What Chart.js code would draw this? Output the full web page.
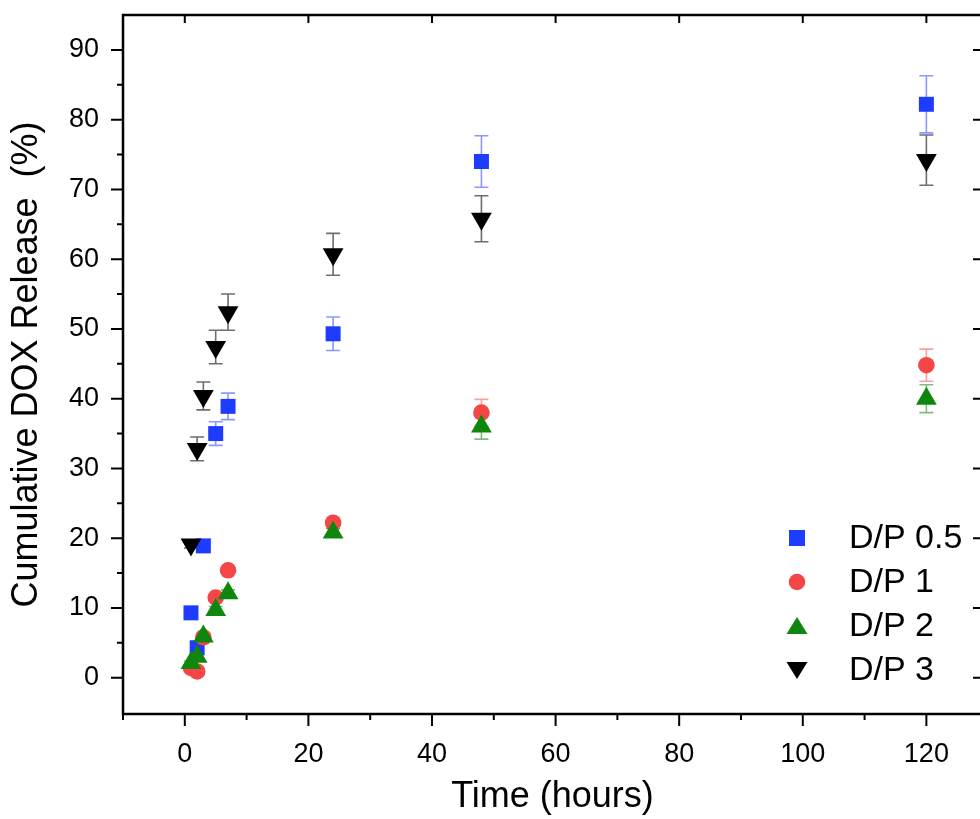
<!DOCTYPE html>
<html>
<head>
<meta charset="utf-8">
<title>Cumulative DOX Release</title>
<script src="https://cdn.jsdelivr.net/npm/chart.js@4.4.1/dist/chart.umd.min.js"></script>
<style>
  html, body { margin: 0; padding: 0; overflow: hidden; background: #fff; }
  #wrap { width: 990px; height: 819px; }
</style>
</head>
<body>
<div id="wrap"><canvas id="releaseChart" width="990" height="819"></canvas></div>
<script>
// sampling times (hours)
const hours = [1, 2, 3, 5, 7, 24, 48, 120];

// cumulative release (%) and error (+/-) per D/P ratio
const dp05 = [9.3, 4.3, 18.9, 35.0, 38.9, 49.3, 74.0, 82.2];
const dp05Err = [0.4, 0.5, 0.5, 1.7, 1.9, 2.4, 3.7, 4.1];
const dp1 = [1.4, 0.9, 5.8, 11.5, 15.4, 22.2, 38.0, 44.8];
const dp1Err = [0.3, 0.3, 0.5, 0.5, 0.5, 0.8, 1.9, 2.3];
const dp2 = [2.1, 3.0, 5.9, 9.7, 12.1, 20.8, 36.0, 40.0];
const dp2Err = [0.3, 0.3, 0.5, 0.5, 0.5, 0.6, 1.8, 2.0];
const dp3 = [19.1, 32.8, 40.4, 47.4, 52.4, 60.7, 65.8, 74.2];
const dp3Err = [0.5, 1.7, 2.0, 2.4, 2.6, 3.0, 3.3, 3.6];

const seriesNames = ['D/P 0.5', 'D/P 1', 'D/P 2', 'D/P 3'];

// tick labels
const xTickValues = [0, 20, 40, 60, 80, 100, 120];
const yTickValues = [0, 10, 20, 30, 40, 50, 60, 70, 80, 90];

const FONT = "'Liberation Sans', Arial, sans-serif";

function toPoints(values) {
    return hours.map((h, i) => ({ x: h, y: values[i] }));
}

// draws +/- error bars with caps under the markers
const errorBars = {
    id: 'errorBars',
    beforeDatasetsDraw(chart) {
        const { ctx, scales: { x, y } } = chart;
        chart.data.datasets.forEach((ds, i) => {
            ctx.save();
            ctx.strokeStyle = ds.errorColor;
            ctx.lineWidth = 1.6;
            ds.data.forEach((pt, j) => {
                const e = ds.errors[j];
                const px = x.getPixelForValue(pt.x);
                const top = y.getPixelForValue(pt.y + e);
                const bot = y.getPixelForValue(pt.y - e);
                ctx.beginPath();
                ctx.moveTo(px, top);
                ctx.lineTo(px, bot);
                ctx.moveTo(px - 7, top);
                ctx.lineTo(px + 7, top);
                ctx.moveTo(px - 7, bot);
                ctx.lineTo(px + 7, bot);
                ctx.stroke();
            });
            ctx.restore();
        });
    }
};

// box frame with outward ticks (left/bottom) and mirrored inward ticks
const axisFrame = {
    id: 'axisFrame',
    afterDraw(chart) {
        const { ctx, chartArea: a, scales: { x, y } } = chart;
        ctx.save();
        ctx.strokeStyle = '#000';
        ctx.lineWidth = 2.5;
        ctx.lineCap = 'square';
        ctx.strokeRect(a.left, a.top, a.right - a.left, a.bottom - a.top);
        ctx.lineCap = 'butt';
        ctx.lineWidth = 2;
        ctx.beginPath();
        for (let v = 0; v <= 90; v += 5) {
            const py = y.getPixelForValue(v);
            const major = v % 10 === 0;
            ctx.moveTo(a.left, py);
            ctx.lineTo(a.left - (major ? 12 : 6), py);
            if (major) {
                ctx.moveTo(a.right, py);
                ctx.lineTo(a.right - 9, py);
            }
        }
        for (let v = -10; v <= 120; v += 10) {
            const px = x.getPixelForValue(v);
            const major = v % 20 === 0;
            ctx.moveTo(px, a.bottom);
            ctx.lineTo(px, a.bottom + (major ? 12 : 6));
            if (major) {
                ctx.moveTo(px, a.top);
                ctx.lineTo(px, a.top + 8);
            }
        }
        ctx.stroke();
        ctx.restore();
    }
};

function drawMarker(ctx, kind, cx, cy, color) {
    ctx.fillStyle = color;
    ctx.beginPath();
    if (kind === 'rect') {
        ctx.rect(cx - 8, cy - 8, 16, 16);
    } else if (kind === 'circle') {
        ctx.arc(cx, cy, 8.3, 0, Math.PI * 2);
    } else if (kind === 'up') {
        ctx.moveTo(cx, cy - 9);
        ctx.lineTo(cx + 10.5, cy + 8);
        ctx.lineTo(cx - 10.5, cy + 8);
    } else {
        ctx.moveTo(cx, cy + 9);
        ctx.lineTo(cx + 10.5, cy - 8);
        ctx.lineTo(cx - 10.5, cy - 8);
    }
    ctx.closePath();
    ctx.fill();
}

// legend inside the plot, lower right
const insideLegend = {
    id: 'insideLegend',
    afterDraw(chart) {
        const { ctx } = chart;
        const kinds = ['rect', 'circle', 'up', 'down'];
        ctx.save();
        ctx.font = '34px ' + FONT;
        ctx.textBaseline = 'middle';
        ctx.textAlign = 'left';
        chart.data.datasets.forEach((ds, i) => {
            const rowY = 538 + i * 44;
            drawMarker(ctx, kinds[i], 797, rowY, ds.backgroundColor);
            ctx.fillStyle = '#000';
            ctx.fillText(seriesNames[i], 849, rowY + 1);
        });
        ctx.restore();
    }
};

const ctx = document.getElementById('releaseChart');

new Chart(ctx, {
    type: 'scatter',
    data: {
        datasets: [
            {
                label: seriesNames[0],
                data: toPoints(dp05),
                errors: dp05Err,
                errorColor: 'rgba(40, 70, 255, 0.55)',
                backgroundColor: '#1e3cff',
                pointStyle: 'rect',
                pointRadius: 10.6,
                pointBorderWidth: 0,
                order: 4
            },
            {
                label: seriesNames[1],
                data: toPoints(dp1),
                errors: dp1Err,
                errorColor: 'rgba(245, 80, 80, 0.55)',
                backgroundColor: '#f54646',
                pointStyle: 'circle',
                pointRadius: 8.3,
                pointBorderWidth: 0,
                order: 3
            },
            {
                label: seriesNames[2],
                data: toPoints(dp2),
                errors: dp2Err,
                errorColor: 'rgba(20, 135, 20, 0.55)',
                backgroundColor: '#0f870f',
                pointStyle: 'triangle',
                pointRadius: 12,
                pointBorderWidth: 0,
                order: 2
            },
            {
                label: seriesNames[3],
                data: toPoints(dp3),
                errors: dp3Err,
                errorColor: '#6e6e6e',
                backgroundColor: '#000000',
                pointStyle: 'triangle',
                pointRotation: 180,
                pointRadius: 12,
                pointBorderWidth: 0,
                order: 1
            }
        ]
    },
    options: {
        responsive: false,
        animation: false,
        devicePixelRatio: 1,
        layout: {
            autoPadding: false,
            padding: { top: 15, right: 8, left: 0, bottom: 0 }
        },
        plugins: {
            legend: { display: false },
            tooltip: { enabled: false }
        },
        scales: {
            x: {
                type: 'linear',
                min: -10,
                max: 129,
                grid: { display: false, drawTicks: false },
                border: { display: false },
                afterBuildTicks: (scale) => {
                    scale.ticks = xTickValues.map(v => ({ value: v }));
                },
                afterFit: (scale) => {
                    scale.height = 105;
                    scale.paddingLeft = 0;
                    scale.paddingRight = 0;
                },
                ticks: {
                    padding: 24,
                    color: '#000',
                    font: { family: FONT, size: 27 },
                    maxRotation: 0,
                    autoSkip: false
                },
                title: {
                    display: true,
                    text: 'Time (hours)',
                    color: '#000',
                    font: { family: FONT, size: 36 },
                    padding: { top: 0, bottom: 0 }
                }
            },
            y: {
                type: 'linear',
                min: -5.2,
                max: 95,
                grid: { display: false, drawTicks: false },
                border: { display: false },
                afterBuildTicks: (scale) => {
                    scale.ticks = yTickValues.map(v => ({ value: v }));
                },
                afterFit: (scale) => {
                    scale.width = 123;
                    scale.paddingTop = 0;
                    scale.paddingBottom = 0;
                },
                ticks: {
                    padding: 24,
                    color: '#000',
                    font: { family: FONT, size: 27 },
                    autoSkip: false
                },
                title: {
                    display: true,
                    text: 'Cumulative DOX Release  (%)',
                    color: '#000',
                    font: { family: FONT, size: 36 },
                    padding: { top: 5, bottom: 0 }
                }
            }
        }
    },
    plugins: [errorBars, axisFrame, insideLegend]
});
</script>
</body>
</html>
